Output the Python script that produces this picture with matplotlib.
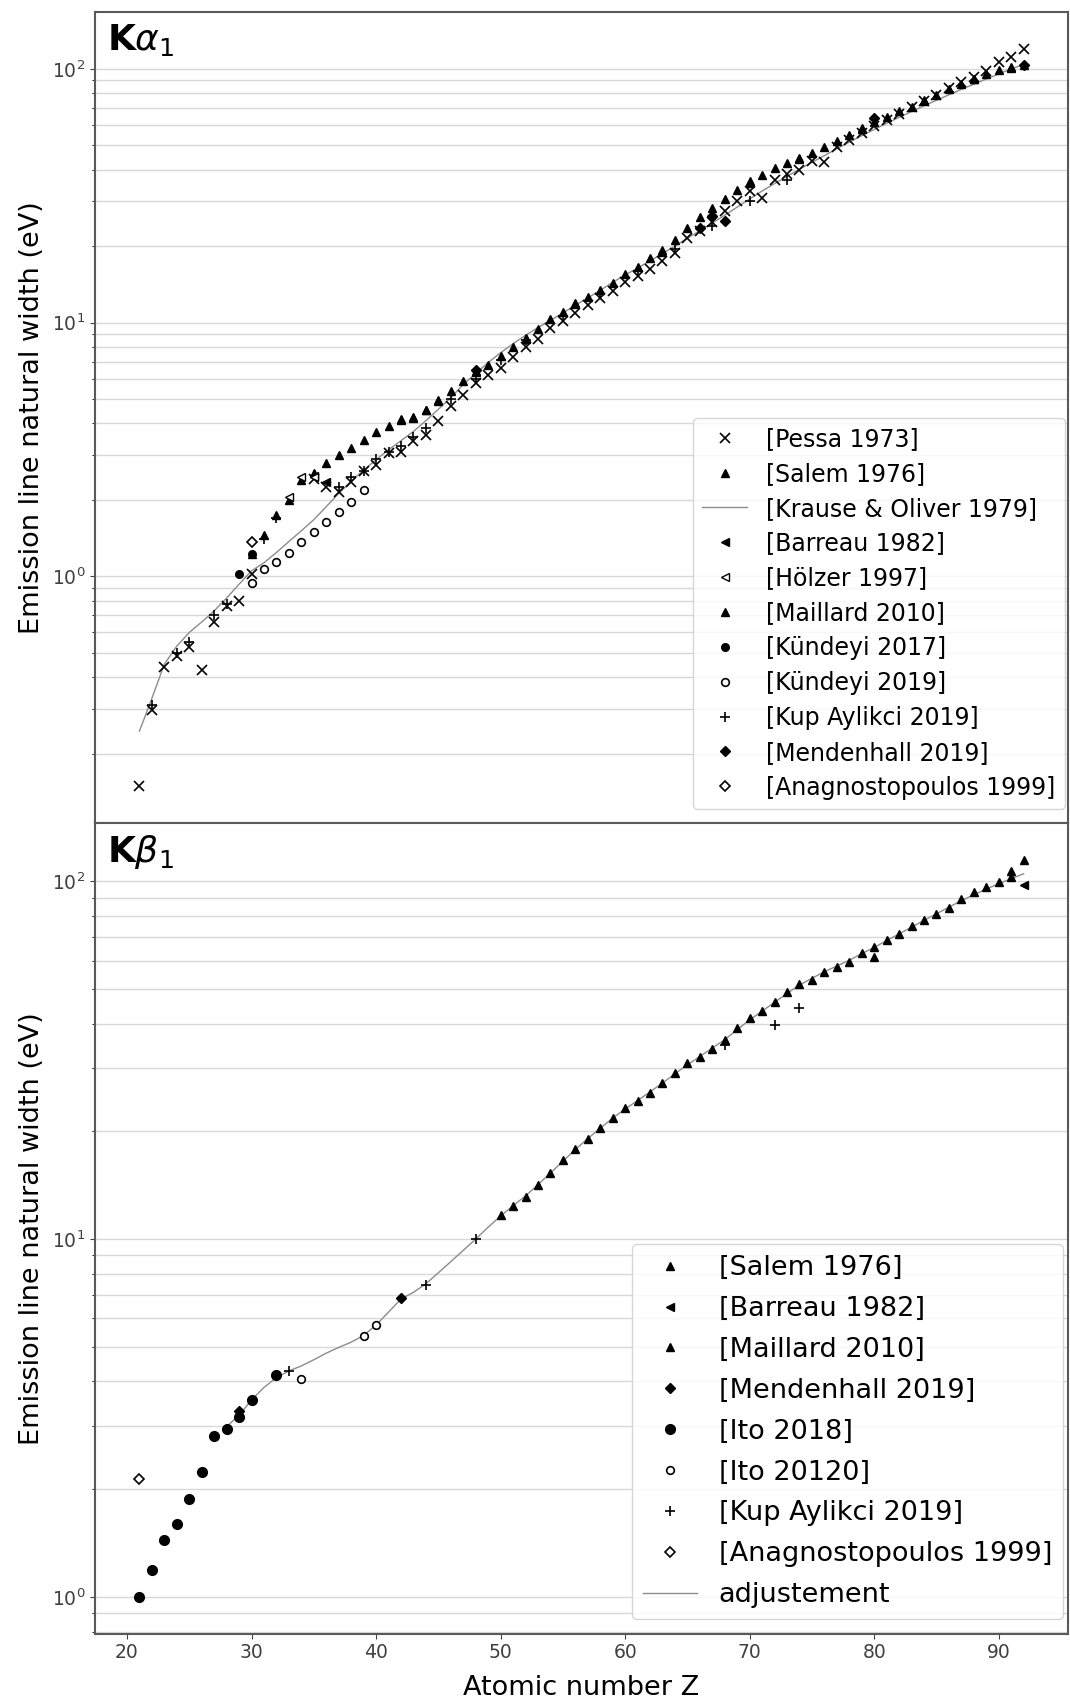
#!/usr/bin/env python3

import matplotlib
matplotlib.use("Agg")
import matplotlib.pyplot as plt

# ---------------- K alpha 1 (top panel), widths in eV ----------------
pessa_z = list(range(21, 31)) + list(range(35, 93))
pessa_w = [0.149, 0.298, 0.439, 0.483, 0.525, 0.428, 0.659, 0.76, 0.795, 1.02,
           2.42, 2.24, 2.15, 2.35, 2.6, 2.75, 3.05, 3.1, 3.4, 3.6,
           4.1, 4.7, 5.2, 5.8, 6.2, 6.6, 7.3, 8.0, 8.6, 9.5,
           10.1, 10.9, 11.7, 12.5, 13.3, 14.4, 15.3, 16.3, 17.5, 18.8,
           21.5, 23.0, 25.0, 27.5, 30.0, 33.0, 31.0, 36.5, 38.5, 40.0,
           43.5, 43.0, 49.0, 52.5, 56.0, 59.5, 63.0, 66.5, 70.5, 74.5,
           79.0, 84.0, 88.5, 93.0, 98.0, 106.0, 111.0, 120.0]

salem_a_z = list(range(30, 93))
salem_a_w = [1.22, 1.45, 1.74, 1.99, 2.4, 2.55, 2.8, 3.0, 3.2, 3.45,
             3.7, 3.9, 4.12, 4.22, 4.5, 4.9, 5.35, 5.9, 6.4, 6.8,
             7.4, 8.0, 8.7, 9.4, 10.3, 11.0, 11.8, 12.6, 13.4, 14.3,
             15.5, 16.6, 17.9, 19.3, 21.2, 23.5, 26.0, 28.2, 30.6, 33.2,
             36.0, 38.3, 40.5, 42.5, 44.5, 46.5, 49.2, 52.0, 55.0, 58.0,
             61.5, 64.5, 68.0, 71.0, 75.0, 79.0, 83.0, 87.0, 91.0, 95.0,
             99.0, 102.0, 104.0]

krause_z = list(range(21, 93))
krause_w = [0.245, 0.33, 0.45, 0.53, 0.60, 0.66, 0.73, 0.82, 0.93, 1.05,
            1.13, 1.24, 1.37, 1.51, 1.67, 1.88, 2.12, 2.37, 2.62, 2.88,
            3.15, 3.42, 3.72, 4.1, 4.55, 5.05, 5.7, 6.3, 6.95, 7.6,
            8.25, 8.9, 9.55, 10.2, 10.9, 11.7, 12.5, 13.4, 14.4, 15.4,
            16.4, 17.5, 18.7, 20.0, 21.5, 23.0, 24.7, 26.5, 28.5, 30.7,
            33.0, 35.3, 37.7, 40.2, 42.8, 45.5, 48.4, 51.4, 54.5, 57.7,
            61.0, 64.4, 67.9, 71.5, 75.2, 79.0, 83.0, 87.0, 91.2, 95.5,
            100.0, 104.0]

barreau_a_z = [35, 36]
barreau_a_w = [2.48, 2.35]

holzer_z = [33, 34, 35]
holzer_w = [2.05, 2.45, 2.45]

maillard_a_z = [42, 43, 44, 45, 48, 52, 56, 63, 70, 74, 79, 84, 88, 91]
maillard_a_w = [4.15, 4.25, 4.5, 4.95, 6.45, 8.6, 11.9, 19.0, 35.5, 44.0,
                58.5, 75.5, 91.5, 101.0]

kundeyi17_z = [29, 30]
kundeyi17_w = [1.02, 1.22]

kundeyi19_z = list(range(30, 40))
kundeyi19_w = [0.944, 1.07, 1.14, 1.23, 1.36, 1.49, 1.63, 1.79, 1.96, 2.19]

kup_a_z = [22, 24, 25, 27, 28, 31, 32, 37, 38, 39, 40, 41, 42, 43, 44,
           46, 48, 50, 52, 55, 58, 61, 64, 67, 70, 73]
kup_a_w = [0.31, 0.50, 0.55, 0.70, 0.78, 1.40, 1.70, 2.25, 2.45, 2.6,
           2.9, 3.1, 3.25, 3.55, 3.85, 5.0, 6.0, 7.1, 8.5, 10.6,
           13.0, 16.0, 19.5, 24.0, 30.0, 36.5]

mendenhall_a_z = [48, 66, 67, 68, 80, 92]
mendenhall_a_w = [6.5, 23.6, 26.2, 25.1, 63.8, 104.0]

anagno_a_z = [30]
anagno_a_w = [1.36]

# ---------------- K beta 1 (bottom panel), widths in eV ----------------
salem_b_z = list(range(50, 93))
salem_b_w = [11.7, 12.4, 13.1, 14.2, 15.3, 16.6, 17.9, 19.1, 20.4, 21.8,
             23.2, 24.3, 25.6, 27.3, 29.2, 31.0, 32.3, 34.1, 36.0, 38.8,
             41.4, 43.5, 46.0, 49.0, 51.8, 53.1, 55.8, 57.7, 59.5, 62.9,
             65.6, 68.4, 71.4, 74.9, 77.8, 81.2, 84.5, 89.5, 93.4, 96.4,
             99.6, 107.0, 115.0]

barreau_b_z = [92]
barreau_b_w = [97.5]

maillard_b_z = [80, 91]
maillard_b_w = [61.5, 103.0]

mendenhall_b_z = [29, 42]
mendenhall_b_w = [3.3, 6.85]

ito18_z = [21, 22, 23, 24, 25, 26, 27, 28, 29, 30, 32]
ito18_w = [1.0, 1.19, 1.44, 1.60, 1.88, 2.23, 2.81, 2.94, 3.18, 3.56, 4.16]

ito20_z = [34, 39, 40]
ito20_w = [4.06, 5.35, 5.77]

kup_b_z = [33, 44, 48, 68, 72, 74]
kup_b_w = [4.28, 7.45, 10.0, 34.8, 39.6, 44.3]

anagno_b_z = [21]
anagno_b_w = [2.14]

adjust_z = list(range(28, 93))
adjust_w = [2.99, 3.22, 3.55, 3.85, 4.1, 4.28, 4.42, 4.6, 4.8, 4.98,
            5.15, 5.38, 5.75, 6.25, 6.8, 7.1, 7.5, 8.05, 8.65, 9.3,
            10.0, 10.8, 11.6, 12.4, 13.2, 14.2, 15.3, 16.5, 17.8, 19.1,
            20.4, 21.8, 23.1, 24.4, 25.8, 27.3, 29.0, 30.7, 32.4, 34.2,
            36.1, 38.5, 41.0, 43.4, 45.9, 48.6, 51.3, 53.6, 55.9, 58.0,
            60.2, 62.8, 65.4, 68.3, 71.3, 74.5, 77.8, 81.2, 84.7, 88.3,
            91.8, 95.2, 98.5, 101.8, 105.0]

# marker styles
LINE = dict(ls="-", color="0.55", lw=1.0, marker="")
styles = {
    "x": dict(marker="x", ms=6.5, mew=1.2),
    "tri": dict(marker="^", ms=6),
    "left": dict(marker="<", ms=6),
    "left_open": dict(marker="<", ms=6, mfc="white", mew=1.0),
    "dot": dict(marker="o", ms=5.5),
    "dot7": dict(marker="o", ms=7),
    "circ": dict(marker="o", ms=5.5, mfc="white", mew=1.2),
    "plus": dict(marker="+", ms=7, mew=1.2),
    "diam": dict(marker="D", ms=5.5),
    "diam_open": dict(marker="D", ms=5, mfc="white", mew=1.2),
}

top_series = [
    ("[Pessa 1973]", pessa_z, pessa_w, "x"),
    ("[Salem 1976]", salem_a_z, salem_a_w, "tri"),
    ("[Krause & Oliver 1979]", krause_z, krause_w, "line"),
    ("[Barreau 1982]", barreau_a_z, barreau_a_w, "left"),
    ("[Hölzer 1997]", holzer_z, holzer_w, "left_open"),
    ("[Maillard 2010]", maillard_a_z, maillard_a_w, "tri"),
    ("[Kündeyi 2017]", kundeyi17_z, kundeyi17_w, "dot"),
    ("[Kündeyi 2019]", kundeyi19_z, kundeyi19_w, "circ"),
    ("[Kup Aylikci 2019]", kup_a_z, kup_a_w, "plus"),
    ("[Mendenhall 2019]", mendenhall_a_z, mendenhall_a_w, "diam"),
    ("[Anagnostopoulos 1999]", anagno_a_z, anagno_a_w, "diam_open"),
]

bottom_series = [
    ("[Salem 1976]", salem_b_z, salem_b_w, "tri"),
    ("[Barreau 1982]", barreau_b_z, barreau_b_w, "left"),
    ("[Maillard 2010]", maillard_b_z, maillard_b_w, "tri"),
    ("[Mendenhall 2019]", mendenhall_b_z, mendenhall_b_w, "diam"),
    ("[Ito 2018]", ito18_z, ito18_w, "dot7"),
    ("[Ito 20120]", ito20_z, ito20_w, "circ"),
    ("[Kup Aylikci 2019]", kup_b_z, kup_b_w, "plus"),
    ("[Anagnostopoulos 1999]", anagno_b_z, anagno_b_w, "diam_open"),
    ("adjustement", adjust_z, adjust_w, "line"),
]


def draw(ax, series):
    for label, z, w, st in series:
        if st == "line":
            ax.plot(z, w, label=label, zorder=2, **LINE)
        else:
            ax.plot(z, w, ls="none", color="k", label=label, zorder=3,
                    **styles[st])


fig, (ax1, ax2) = plt.subplots(2, 1, sharex=True, figsize=(10.7, 17), dpi=100)
plt.subplots_adjust(left=0.089, right=0.998, top=0.993, bottom=0.039, hspace=0)

draw(ax1, top_series)
draw(ax2, bottom_series)

for ax, name in [(ax1, r"$\mathbf{K}\alpha_1$"), (ax2, r"$\mathbf{K}\beta_1$")]:
    ax.set_yscale("log")
    ax.grid(True, which="both", axis="y", color="#d8d8d8", lw=1.0)
    ax.set_axisbelow(True)
    ax.set_ylabel("Emission line natural width (eV)", fontsize=19.5)
    ax.yaxis.set_label_coords(-0.052, 0.5)
    ax.tick_params(labelsize=13.5, colors="0.25")
    for sp in ax.spines.values():
        sp.set_color("0.35")
        sp.set_linewidth(1.5)
    ax.text(0.012, 0.988, name, transform=ax.transAxes, fontsize=26,
            va="top", ha="left")

ax1.legend(loc="lower right", bbox_to_anchor=(0.997, 0.017), borderaxespad=0,
           fontsize=17, labelspacing=0.46, handlelength=1.9)
ax2.legend(loc="lower right", bbox_to_anchor=(0.995, 0.018), borderaxespad=0,
           fontsize=19.5, labelspacing=0.55, handlelength=2.0)

ax2.set_xlabel("Atomic number Z", fontsize=19.5, labelpad=9)
ax2.set_xticks([20, 30, 40, 50, 60, 70, 80, 90])

plt.savefig("out.png", dpi=100)
